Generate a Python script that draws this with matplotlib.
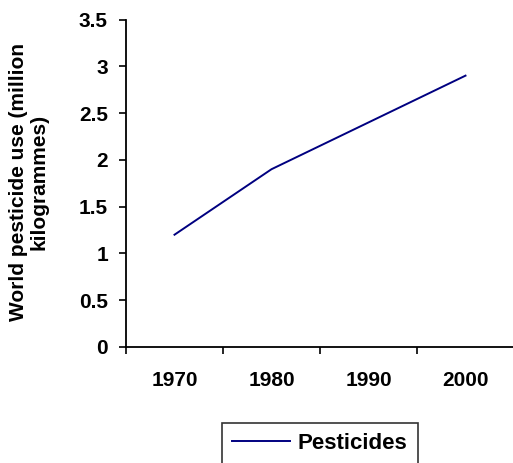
import matplotlib
matplotlib.use("Agg")
import matplotlib.pyplot as plt
from matplotlib.ticker import FixedLocator, MultipleLocator

plt.rcParams["font.family"] = ["Liberation Sans", "DejaVu Sans"]
plt.rcParams["font.weight"] = "bold"

years = ["1970", "1980", "1990", "2000"]
pesticide_use = [1.2, 1.9, 2.4, 2.9]
series_name = "Pesticides"
y_label = "World pesticide use (million\nkilogrammes)"

W, H = 513, 463
fig = plt.figure(figsize=(W / 100, H / 100), dpi=100)
ax = fig.add_axes([126 / W, 1 - 347 / H, 388 / W, (347 - 19.5) / H])

x = list(range(len(years)))
ax.plot(x, pesticide_use, color="#000080", linewidth=1.4, label=series_name)

ax.set_xlim(-0.5, len(years) - 0.5)
ax.set_ylim(0, 3.5)
ax.yaxis.set_major_locator(MultipleLocator(0.5))
ax.yaxis.set_major_formatter(plt.FuncFormatter(lambda v, p: f"{v:g}"))

# category labels centred, tick marks between categories (Excel style)
ax.set_xticks(x)
ax.set_xticklabels(years)
ax.xaxis.set_minor_locator(FixedLocator([i - 0.5 for i in range(len(years) + 1)]))
ax.tick_params(axis="x", which="major", length=0, pad=17, labelsize=15)
ax.tick_params(axis="x", which="minor", length=5, width=1.2, direction="out")
ax.tick_params(axis="y", which="major", length=5, width=1.2, direction="out",
               pad=8, labelsize=15)

for side in ("top", "right"):
    ax.spines[side].set_visible(False)
for side in ("left", "bottom"):
    ax.spines[side].set_linewidth(1.3)

fig.text(28.5 / W, 1 - 182 / H, y_label, rotation=90, ha="center", va="center",
         fontsize=15, fontweight="bold", multialignment="center", linespacing=1.1)

leg = fig.legend(loc="upper center", bbox_to_anchor=(320 / W, 1 - 423 / H),
                 borderaxespad=0, frameon=True, fancybox=False, edgecolor="black",
                 prop={"size": 16, "weight": "bold"}, handlelength=2.6,
                 borderpad=0.45, handletextpad=0.35)
leg.get_frame().set_linewidth(1.2)

fig.savefig("out.png", dpi=100)
